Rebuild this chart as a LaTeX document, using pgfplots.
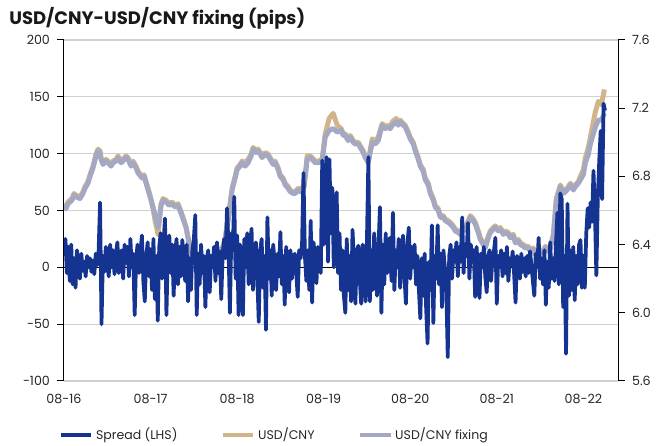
\documentclass[border=0pt]{standalone}
\usepackage{fontspec}
\setmainfont{Poppins}
\usepackage{pgfplots}
\pgfplotsset{compat=1.18}
\usepackage{pgfplotstable}

\definecolor{spreadblue}{RGB}{21,51,145}
\definecolor{tanc}{RGB}{209,180,140}
\definecolor{grayc}{RGB}{164,168,194}
\definecolor{gridgray}{RGB}{208,208,208}

% Spread (pips), one observation every 1/60 year from Aug 2016
\pgfplotstableread[row sep=\\]{
s\\
10\\ 25\\ -5\\ 18\\ -12\\ 20\\ -15\\ 8\\ -18\\ 15\\ 2\\ -10\\ 12\\ -3\\ 5\\ -8\\ 10\\ 0\\ 8\\ -4\\
6\\ -6\\ 12\\ 2\\ 15\\ 57\\ -50\\ 10\\ -4\\ 18\\ 5\\ -8\\ 20\\ 0\\ 15\\ -6\\ 12\\ 22\\ -5\\ 10\\
15\\ -10\\ 20\\ 4\\ 18\\ -8\\ 25\\ 0\\ 12\\ -42\\ 8\\ 20\\ -5\\ 14\\ 28\\ -12\\ -30\\ 10\\ 22\\ -8\\
16\\ -20\\ 25\\ -28\\ 10\\ -47\\ 18\\ 30\\ -10\\ 22\\ 43\\ -42\\ 15\\ 28\\ -5\\ 20\\ -25\\ 12\\ 25\\ -15\\
18\\ -8\\ 24\\ 5\\ -12\\ 20\\ -30\\ 8\\ -20\\ 15\\ 25\\ 46\\ -42\\ 12\\ -15\\ 20\\ -5\\ 10\\ -35\\ 8\\
15\\ -22\\ 10\\ 0\\ 18\\ -12\\ 22\\ -5\\ 14\\ -28\\ 12\\ 25\\ 8\\ 52\\ 20\\ -40\\ 30\\ 15\\ 62\\ -10\\
28\\ -42\\ 20\\ 10\\ -42\\ 25\\ 0\\ 30\\ -15\\ 18\\ 34\\ -20\\ 12\\ 22\\ -10\\ -48\\ 15\\ 25\\ -18\\ 10\\
-55\\ 44\\ -10\\ 15\\ -25\\ 20\\ 5\\ -20\\ 12\\ -8\\ 31\\ -15\\ 10\\ -33\\ 18\\ 0\\ -22\\ 15\\ -10\\ 8\\
12\\ -5\\ -26\\ 15\\ 8\\ 20\\ 83\\ 10\\ -12\\ 15\\ -20\\ 41\\ -31\\ 22\\ 5\\ -14\\ 18\\ 10\\ -5\\ 94\\
20\\ 60\\ 97\\ 5\\ 95\\ 30\\ 70\\ 0\\ 20\\ 66\\ -5\\ 30\\ -20\\ 15\\ -25\\ -40\\ 25\\ -20\\ 10\\ -30\\
33\\ 5\\ -32\\ 15\\ 19\\ -10\\ -32\\ 20\\ 0\\ -30\\ 25\\ 97\\ -30\\ 15\\ -20\\ 30\\ 5\\ -25\\ 18\\ 53\\
-40\\ 20\\ -15\\ 30\\ -5\\ 22\\ 26\\ -12\\ 48\\ -20\\ 15\\ 0\\ 25\\ -18\\ 10\\ 28\\ -8\\ -32\\ 20\\ 35\\
-10\\ 18\\ 0\\ 20\\ -15\\ 10\\ -20\\ -45\\ 8\\ -25\\ 12\\ -35\\ -67\\ 5\\ -20\\ 37\\ -49\\ 10\\ -10\\ 37\\
-15\\ 12\\ -35\\ 15\\ 0\\ -20\\ -79\\ 10\\ 20\\ -10\\ 15\\ 5\\ 22\\ -8\\ 18\\ 5\\ 44\\ -5\\ 20\\ 10\\
39\\ -10\\ 20\\ 5\\ 15\\ -26\\ 18\\ -5\\ -27\\ 12\\ 0\\ 18\\ -8\\ -22\\ 10\\ 15\\ -12\\ 8\\ 14\\ 26\\
-32\\ 10\\ 0\\ 15\\ -8\\ 12\\ -5\\ 18\\ -12\\ 8\\ 2\\ 14\\ -6\\ -31\\ 10\\ 5\\ -10\\ 12\\ -4\\ 8\\
-8\\ 10\\ -5\\ 14\\ 2\\ -12\\ -25\\ 12\\ 0\\ 26\\ -10\\ 8\\ -15\\ 15\\ -33\\ 5\\ -18\\ 22\\ -10\\ 8\\
-12\\ 20\\ 48\\ -15\\ 65\\ 60\\ -35\\ 10\\ -76\\ 56\\ -25\\ 15\\ -20\\ 18\\ -29\\ 10\\ -15\\ 20\\ 24\\ -18\\
10\\ -18\\ 30\\ 52\\ 35\\ 57\\ 40\\ 85\\ 50\\ -7\\ 60\\ 94\\ 120\\ 60\\ 144\\ 138\\
}\spreaddata

% px = horizontal position (08-16 at 64, one year = 86.5); g = fixing, t = USD/CNY
\pgfplotstableread{
px g t
64 6.63 6.64
66 6.61 6.62
68 6.64 6.65
70 6.65 6.66
72 6.66 6.67
74 6.69 6.70
76 6.68 6.69
80 6.67 6.68
83 6.70 6.71
85 6.73 6.74
88 6.76 6.77
90 6.80 6.81
93 6.85 6.86
96 6.92 6.93
98 6.95 6.96
100 6.94 6.95
101 6.90 6.91
103 6.87 6.88
106 6.89 6.90
108 6.88 6.89
111 6.86 6.87
113 6.88 6.89
116 6.89 6.90
118 6.91 6.92
121 6.88 6.89
123 6.89 6.90
126 6.91 6.92
128 6.90 6.91
131 6.86 6.87
133 6.88 6.89
136 6.85 6.86
138 6.82 6.83
142 6.79 6.80
144 6.80 6.81
146 6.76 6.77
150 6.68 6.69
153 6.62 6.61
155 6.57 6.54
158 6.50 6.46
161 6.63 6.64
163 6.66 6.67
166 6.65 6.66
169 6.63 6.64
172 6.64 6.65
175 6.62 6.63
178 6.63 6.64
183 6.55 6.56
186 6.50 6.50
188 6.44 6.44
192 6.31 6.31
196 6.28 6.28
198 6.32 6.32
200 6.31 6.31
203 6.29 6.29
205 6.30 6.30
208 6.33 6.33
210 6.32 6.32
213 6.28 6.28
215 6.30 6.30
218 6.34 6.34
220 6.37 6.37
223 6.38 6.39
225 6.43 6.44
228 6.54 6.55
232 6.72 6.73
235 6.79 6.80
237 6.84 6.85
240 6.86 6.87
242 6.88 6.89
245 6.86 6.88
248 6.88 6.90
251 6.92 6.93
253 6.96 6.97
256 6.94 6.95
258 6.95 6.96
262 6.91 6.92
265 6.93 6.94
268 6.92 6.93
270 6.90 6.91
273 6.87 6.88
275 6.88 6.89
278 6.84 6.85
280 6.80 6.81
283 6.78 6.79
285 6.75 6.76
288 6.73 6.74
290 6.71 6.72
293 6.70 6.71
295 6.70 6.71
298 6.72 6.73
300 6.71 6.72
304 6.74 6.75
307 6.90 6.92
310 6.91 6.92
312 6.90 6.91
315 6.88 6.89
318 6.88 6.89
322 6.89 6.90
325 7.03 7.05
329 7.07 7.14
333 7.08 7.17
337 7.06 7.10
341 7.07 7.08
343 7.04 7.05
345 7.04 7.05
348 7.01 7.02
350 7.03 7.04
353 7.00 7.01
355 6.99 7.00
358 6.99 7.00
360 6.97 6.98
363 6.94 6.95
365 6.91 6.92
368 6.88 6.89
372 7.00 7.02
375 6.99 7.01
378 7.01 7.03
382 7.10 7.11
385 7.08 7.09
387 7.09 7.10
390 7.08 7.09
392 7.10 7.12
396 7.12 7.14
398 7.10 7.11
400 7.12 7.13
403 7.10 7.11
405 7.09 7.10
408 7.05 7.06
410 7.02 7.03
413 6.99 7.00
415 6.95 6.96
418 6.90 6.91
420 6.86 6.87
423 6.83 6.84
425 6.78 6.79
428 6.75 6.76
430 6.70 6.71
433 6.66 6.67
435 6.62 6.63
438 6.60 6.61
440 6.56 6.57
443 6.56 6.57
445 6.54 6.55
448 6.53 6.54
450 6.52 6.53
453 6.50 6.51
455 6.48 6.49
458 6.47 6.48
460 6.46 6.47
463 6.48 6.49
465 6.50 6.51
468 6.53 6.54
470 6.56 6.57
473 6.54 6.55
475 6.52 6.53
478 6.47 6.48
480 6.43 6.44
483 6.40 6.41
485 6.38 6.39
488 6.44 6.45
490 6.47 6.48
493 6.49 6.50
495 6.50 6.51
498 6.48 6.49
500 6.49 6.50
503 6.46 6.47
505 6.47 6.48
508 6.46 6.47
510 6.44 6.45
513 6.45 6.46
515 6.41 6.42
518 6.42 6.43
520 6.40 6.41
523 6.39 6.40
525 6.38 6.39
528 6.38 6.39
530 6.36 6.37
533 6.37 6.38
535 6.34 6.35
538 6.33 6.34
540 6.35 6.36
543 6.36 6.37
545 6.38 6.39
548 6.36 6.37
550 6.38 6.39
553 6.45 6.46
556 6.66 6.67
558 6.70 6.71
560 6.74 6.75
563 6.70 6.71
565 6.71 6.72
568 6.73 6.74
570 6.75 6.76
573 6.72 6.73
575 6.74 6.75
578 6.76 6.77
580 6.78 6.80
583 6.81 6.84
585 6.88 6.91
588 6.93 6.97
590 6.99 7.03
593 7.05 7.12
595 7.09 7.18
598 7.13 7.24
601 7.13 7.22
604 7.17 7.31
}\ratedata

\pgfplotsset{
  base/.style={width=415.5pt, height=255.75pt, scale only axis,
    at={(48pt,48.75pt)}, anchor=south west, xmin=0, xmax=6.4},
  tickfont/.style={font=\fontsize{9.5}{11}\selectfont, text=black!85},
}

\begin{document}
\begin{tikzpicture}
\path[use as bounding box] (0,0) rectangle (492.75pt,334.5pt);

% left axis with grid
\begin{axis}[base, ymin=-100, ymax=200,
  ytick={-100,-50,0,50,100,150,200},
  xtick={0,1,2,3,4,5,6},
  xticklabels={08-16,08-17,08-18,08-19,08-20,08-21,08-22},
  axis y line*=left, axis x line*=bottom,
  x axis line style={draw=none}, xtick style={draw=none},
  tick align=outside, major tick length=5pt,
  ytick style={black, line width=0.75pt},
  y axis line style={black, line width=0.75pt},
  ymajorgrids, grid style={gridgray, line width=0.8pt},
  tick label style={tickfont},
  /pgf/number format/assume math mode=true,
  xticklabel style={yshift=-1pt},
  yticklabel style={xshift=-2pt}]
\draw[black, line width=0.75pt] (axis cs:0,0) -- (axis cs:6.4,0);
\end{axis}

% right axis with exchange rates
\begin{axis}[base, ymin=5.6, ymax=7.6,
  ytick={5.6,6.0,6.4,6.8,7.2,7.6},
  axis y line*=right, axis x line=none,
  tick align=outside, major tick length=5pt,
  ytick style={black, line width=0.75pt},
  y axis line style={black, line width=0.75pt},
  tick label style={tickfont},
  /pgf/number format/assume math mode=true,
  yticklabel style={/pgf/number format/.cd, fixed, fixed zerofill, precision=1, /tikz/.cd, xshift=2pt}]
\addplot[tanc, line width=3.7pt, line join=round] table[x expr=(\thisrow{px}-64)/86.5, y=t] {\ratedata};
\addplot[grayc, line width=3.7pt, line join=round] table[x expr=(\thisrow{px}-64)/86.5, y=g] {\ratedata};
\end{axis}

% spread on top, with legend
\begin{axis}[base, ymin=-100, ymax=200, hide axis,
  legend columns=3,
  legend style={at={(-0.01,-0.158)}, anchor=west, draw=none, fill=none,
    font=\fontsize{9.4}{11}\selectfont, text=black!85, inner sep=0pt,
    /tikz/every even column/.append style={column sep=30.5pt}},
  legend image code/.code={\draw[#1, line width=3pt] (0pt,0pt) -- (23pt,0pt);}]
\addplot[spreadblue, line width=2.8pt, line join=round] table[x expr=\coordindex/60, y=s] {\spreaddata};
\addlegendentry{Spread (LHS)}
\addlegendimage{tanc}
\addlegendentry{USD/CNY}
\addlegendimage{grayc}
\addlegendentry{USD/CNY fixing}
\end{axis}

\node[anchor=base west, font=\bfseries\fontsize{13.5}{15}\selectfont, text=black!90] at (3.5pt,315.75pt) {USD/CNY-USD/CNY fixing (pips)};
\end{tikzpicture}
\end{document}
